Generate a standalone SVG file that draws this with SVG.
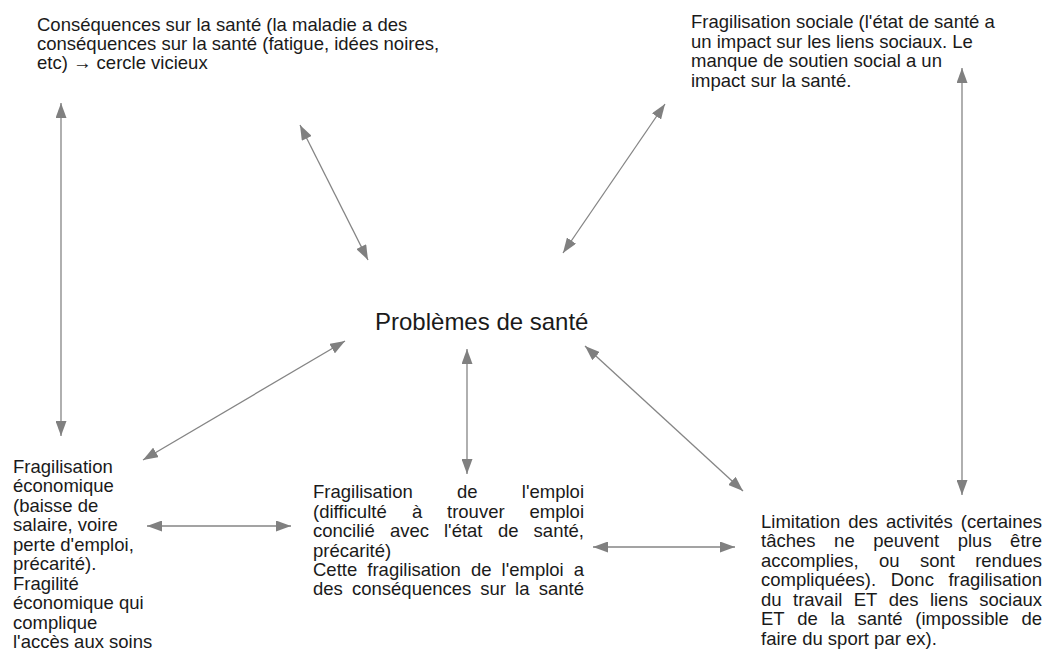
<svg xmlns="http://www.w3.org/2000/svg" width="1048" height="652" viewBox="0 0 1048 652">
<style>
text{font-family:"Liberation Sans",Arial,sans-serif;font-size:18.5px;fill:#1a1a1a}
.title{font-size:24px}
.e{text-anchor:end}
.c line{stroke:#858585;stroke-width:1.3;marker-start:url(#ah);marker-end:url(#ah)}
</style>
<defs>
<marker id="ah" viewBox="0 0 15 11" refX="15" refY="5.5" markerWidth="15" markerHeight="11" markerUnits="userSpaceOnUse" orient="auto-start-reverse">
<path d="M0,0 L15,5.5 L0,11 z" fill="#808080"/>
</marker>
</defs>
<rect width="1048" height="652" fill="#fff"/>
<g id="connectors" class="c">
<line x1="61" y1="103" x2="61" y2="436"/>
<line x1="300" y1="125" x2="368" y2="260"/>
<line x1="665" y1="104" x2="563" y2="253"/>
<line x1="962" y1="68" x2="962" y2="495"/>
<line x1="143" y1="460" x2="345" y2="341"/>
<line x1="467" y1="349" x2="467" y2="474"/>
<line x1="585" y1="346" x2="743" y2="491"/>
<line x1="147" y1="526" x2="291" y2="526"/>
<line x1="593" y1="547" x2="735" y2="547"/>
</g>
<g id="node-center"><text class="title" x="375" y="330">Problèmes de santé</text></g>
<g id="node-consequences">
<text x="37" y="31">Conséquences sur la santé (la maladie a des</text>
<text x="37" y="50">conséquences sur la santé (fatigue, idées noires,</text>
<text x="37" y="69">etc) → cercle vicieux</text>
</g>
<g id="node-sociale">
<text x="691" y="28">Fragilisation sociale (l'état de santé a</text>
<text x="691" y="47.5">un impact sur les liens sociaux. Le</text>
<text x="691" y="67">manque de soutien social a un</text>
<text x="691" y="86.5">impact sur la santé.</text>
</g>
<g id="node-economique">
<text x="13" y="472.5">Fragilisation</text>
<text x="13" y="492">économique</text>
<text x="13" y="511.5">(baisse de</text>
<text x="13" y="531">salaire, voire</text>
<text x="13" y="550.5">perte d'emploi,</text>
<text x="13" y="570">précarité).</text>
<text x="13" y="589.5">Fragilité</text>
<text x="13" y="609">économique qui</text>
<text x="13" y="628.5">complique</text>
<text x="13" y="648">l'accès aux soins</text>
</g>
<g id="node-emploi">
<text x="313" y="498">Fragilisation</text><text x="457" y="498">de</text><text class="e" x="584" y="498">l'emploi</text>
<text x="313" y="517.5">(difficulté</text><text x="412" y="517.5">à</text><text x="447" y="517.5">trouver</text><text class="e" x="584" y="517.5">emploi</text>
<text x="313" y="537">concilié</text><text x="390" y="537">avec</text><text x="444" y="537">l'état</text><text x="498" y="537">de</text><text class="e" x="584" y="537">santé,</text>
<text x="313" y="556.5">précarité)</text>
<text x="313" y="576">Cette</text><text x="367.3" y="576">fragilisation</text><text x="471" y="576">de</text><text x="501.6" y="576">l'emploi</text><text class="e" x="584" y="576">a</text>
<text x="313" y="595">des</text><text x="352" y="595">conséquences</text><text x="480.3" y="595">sur</text><text x="515.1" y="595">la</text><text class="e" x="584" y="595">santé</text>
</g>
<g id="node-limitation">
<text x="761" y="527.5">Limitation</text><text x="848.2" y="527.5">des</text><text x="886" y="527.5">activités</text><text class="e" x="1042" y="527.5">(certaines</text>
<text x="761" y="547">tâches</text><text x="834.1" y="547">ne</text><text x="873.3" y="547">peuvent</text><text x="957.7" y="547">plus</text><text class="e" x="1042" y="547">être</text>
<text x="761" y="566.5">accomplies,</text><text x="879" y="566.5">ou</text><text x="920" y="566.5">sont</text><text class="e" x="1042" y="566.5">rendues</text>
<text x="761" y="586">compliquées).</text><text x="890.7" y="586">Donc</text><text class="e" x="1042" y="586">fragilisation</text>
<text x="761" y="605.5">du</text><text x="793" y="605.5">travail</text><text x="853.7" y="605.5">ET</text><text x="888.7" y="605.5">des</text><text x="929.9" y="605.5">liens</text><text class="e" x="1042" y="605.5">sociaux</text>
<text x="761" y="625">ET</text><text x="797.2" y="625">de</text><text x="830.4" y="625">la</text><text x="857.4" y="625">santé</text><text x="915.3" y="625">(impossible</text><text class="e" x="1042" y="625">de</text>
<text x="761" y="644.5">faire du sport par ex).</text>
</g>
</svg>
